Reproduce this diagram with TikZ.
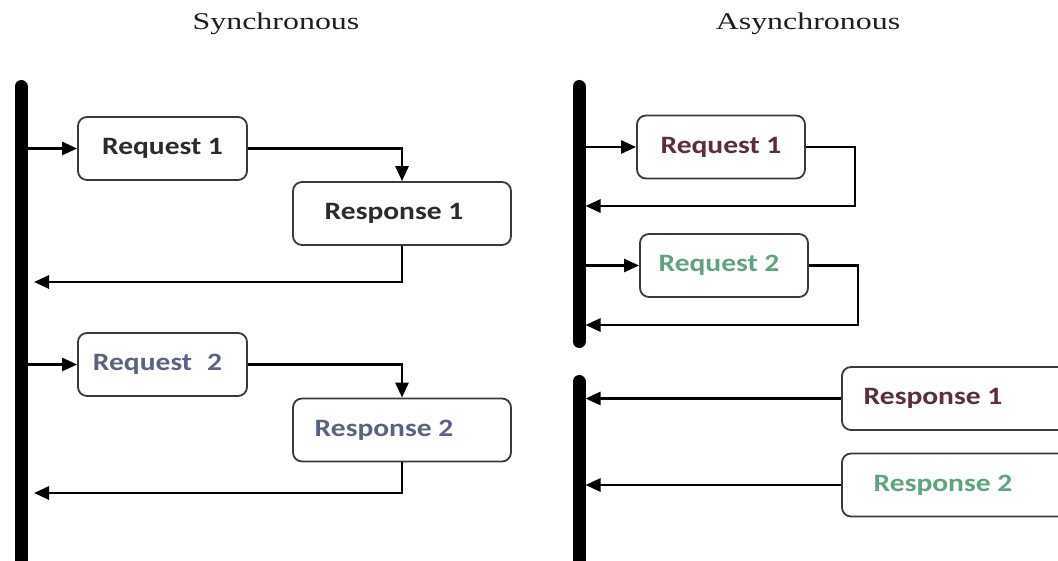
\documentclass[tikz,border=0pt]{standalone}
\usepackage{fontspec}
\usepackage{graphicx}
\usetikzlibrary{arrows.meta}
\newfontfamily\boxfont{Carlito}
\newfontfamily\titlefont{Liberation Serif}
\definecolor{ink}{HTML}{2B2B2B}
\definecolor{slate}{HTML}{5B6382}
\definecolor{maroon}{HTML}{5A2E3D}
\definecolor{mint}{HTML}{5EA57E}
\definecolor{boxline}{HTML}{3A3A3A}
\definecolor{titleink}{HTML}{1E1E1E}
\newcommand\sx[1]{\scalebox{1.18}[1]{#1}}
\newcommand\tx[1]{\scalebox{1.33}[1]{#1}}
\tikzset{
  box/.style={draw=boxline, line width=1.8pt, rounded corners=9pt, minimum height=63pt,
    inner sep=0pt, fill=white, font=\boxfont\bfseries\fontsize{25}{25}\selectfont},
  link/.style={line width=2.7pt, -{Triangle[length=15pt,width=13pt]}},
  bar/.style={line width=13pt, line cap=round},
  title/.style={font=\titlefont\fontsize{24}{24}\selectfont, text=titleink, inner sep=0pt, anchor=base},
}
\begin{document}
\begin{tikzpicture}[x=1pt,y=-1pt]
\useasboundingbox (0,0) rectangle (1058,561);
\fill[white] (0,0) rectangle (1058,561);

% titles
\node[title] (tsync) at (276,30) {\tx{Synchronous}};
\node[title] (tasync) at (808,30) {\tx{Asynchronous}};

% bars
\draw[bar] (21,86.5) -- (21,580);
\draw[bar] (579,86.5) -- (579,341.5);
\draw[bar] (579,381.5) -- (579,580);

% ---------- synchronous ----------
\node[box, minimum width=169pt, text=ink] (rq1s) at (162.5,148.5) {\sx{Request 1}};
\node[box, minimum width=218pt, text=ink] (rs1s) at (402,213.5) {\sx{Response 1}\kern16pt};
\node[box, minimum width=169pt, text=slate] (rq2s) at (162.5,364.5) {\sx{Request\hspace{7pt} 2}\kern10pt};
\node[box, minimum width=218pt, text=slate] (rs2s) at (402,430) {\sx{Response 2}\kern36pt};

\coordinate (s1in) at (27.5,148.5);
\coordinate (s1out) at (34,282);
\coordinate (s2in) at (27.5,364.5);
\coordinate (s2out) at (34,493);

\draw[link] (s1in) -- (rq1s.west);
\draw[link] (rq1s.east) -| (rs1s.north);
\draw[link] (rs1s.south) |- (s1out);
\draw[link] (s2in) -- (rq2s.west);
\draw[link] (rq2s.east) -| (rs2s.north);
\draw[link] (rs2s.south) |- (s2out);

% ---------- asynchronous ----------
\node[box, minimum width=168pt, text=maroon] (rq1a) at (721,147) {\sx{Request 1}};
\node[box, minimum width=168pt, text=mint] (rq2a) at (724,265.5) {\sx{Request 2}\kern10pt};
\node[box, minimum width=233pt, text=maroon] (rs1a) at (958.5,398.5) {\sx{Response 1}\kern51pt};
\node[box, minimum width=233pt, text=mint] (rs2a) at (958.5,485) {\sx{Response 2}\kern31pt};

\coordinate (a1in) at (585.5,147);
\coordinate (a1out) at (585.5,206);
\coordinate (a2in) at (585.5,265.5);
\coordinate (a2out) at (585.5,325);
\coordinate (a3in) at (585.5,398.5);
\coordinate (a4in) at (585.5,485);

\draw[link] (a1in) -- (rq1a.west);
\draw[link] (rq1a.east) -- ++(49,0) |- (a1out);
\draw[link] (a2in) -- (rq2a.west);
\draw[link] (rq2a.east) -- ++(49,0) |- (a2out);
\draw[link] (rs1a.west) -- (a3in);
\draw[link] (rs2a.west) -- (a4in);
\end{tikzpicture}
\end{document}
